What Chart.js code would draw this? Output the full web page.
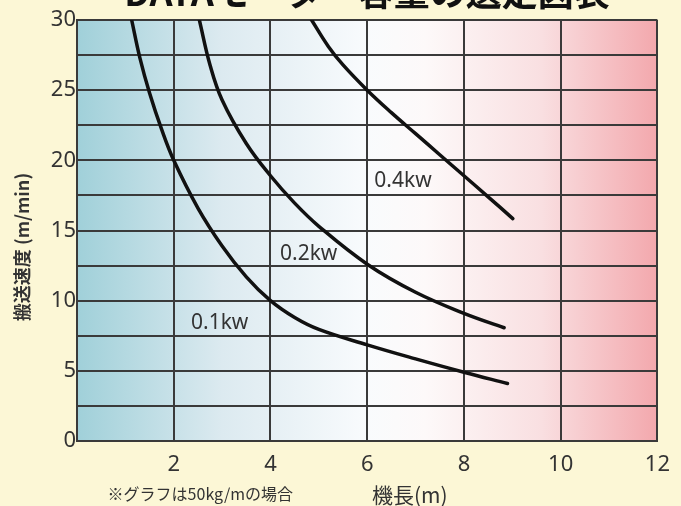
<!DOCTYPE html>
<html>
<head>
<meta charset="utf-8">
<script src="https://cdn.jsdelivr.net/npm/chart.js@4/dist/chart.umd.min.js"></script>
<style>
  html, body { margin: 0; padding: 0; background: #fcf7d6; }
  #wrap { width: 681px; height: 506px; position: relative; }
</style>
</head>
<body>
<div id="wrap"><canvas id="c" width="681" height="506"></canvas></div>
<script>
// ---- data ----
const TITLE = 'DATAモーター容量の選定図表';
const X_TITLE = '機長(m)';
const Y_TITLE = '搬送速度 (m/min)';
const NOTE = '※グラフは50kg/mの場合';

const seriesNames = ['0.1kw', '0.2kw', '0.4kw'];
// machine length (m)
const len01 = [1.13, 1.3, 1.5, 1.75, 2.0, 2.5, 3.0, 3.5, 4.0, 4.5, 5.0, 6.0, 7.0, 8.0, 8.9];
// conveying speed (m/min)
const spd01 = [30, 27.3, 24.8, 22.2, 20, 16.6, 13.9, 11.7, 10, 8.8, 7.95, 6.85, 5.85, 4.9, 4.1];

const len02 = [2.53, 2.75, 3.0, 3.5, 4.0, 4.5, 5.0, 6.0, 7.0, 8.0, 8.83];
const spd02 = [30, 26.8, 24.3, 21.2, 18.9, 16.95, 15.3, 12.6, 10.6, 9.1, 8.07];

const len04 = [4.85, 5.2, 5.5, 6.0, 6.5, 7.0, 7.5, 8.0, 8.5, 9.01];
const spd04 = [30, 28.1, 26.8, 25, 23.4, 21.9, 20.4, 18.9, 17.4, 15.85];

// series label anchors (x in m, y in m/min)
const labelX = [2.95, 4.79, 6.74];
const labelY = [8.4, 13.3, 18.5];

const xTicks = [0, 2, 4, 6, 8, 10, 12];

function pts(xs, ys) { return xs.map((x, i) => ({ x: x, y: ys[i] })); }

const bgPlugin = {
  id: 'bg',
  beforeDraw(chart) {
    const { ctx, chartArea: a } = chart;
    ctx.save();
    ctx.fillStyle = '#fcf7d6';
    ctx.fillRect(0, 0, chart.width, chart.height);
    const g = ctx.createLinearGradient(a.left, 0, a.right, 0);
    g.addColorStop(0, '#a0d0d9');
    g.addColorStop(0.25, '#dceaf0');
    g.addColorStop(0.5, '#f9fbfd');
    g.addColorStop(0.6, '#fdf9f9');
    g.addColorStop(0.8, '#f9dfe1');
    g.addColorStop(1, '#f3a8ad');
    ctx.fillStyle = g;
    ctx.fillRect(a.left, a.top, a.right - a.left, a.bottom - a.top);
    ctx.restore();
  }
};

const textPlugin = {
  id: 'texts',
  afterDraw(chart) {
    const { ctx } = chart;
    const xs = chart.scales.x, ys = chart.scales.y;
    ctx.save();
    // series labels
    ctx.fillStyle = '#333';
    ctx.font = '21px "Noto Sans", sans-serif';
    ctx.textAlign = 'center';
    ctx.textBaseline = 'middle';
    seriesNames.forEach((n, i) => {
      ctx.fillText(n, xs.getPixelForValue(labelX[i]), ys.getPixelForValue(labelY[i]));
    });
    // top title (cut off by the top edge)
    ctx.fillStyle = '#111';
    ctx.font = 'bold 36px "Noto Sans CJK JP", sans-serif';
    ctx.textBaseline = 'alphabetic';
    ctx.fillText(TITLE, 367, 6);
    // x title
    ctx.fillStyle = '#333';
    ctx.font = '21px "Noto Sans CJK JP", sans-serif';
    ctx.textBaseline = 'middle';
    ctx.textAlign = 'left';
    ctx.fillText(X_TITLE, 372, 495);
    // note
    ctx.font = '16px "Noto Sans CJK JP", sans-serif';
    ctx.textAlign = 'right';
    ctx.fillText(NOTE, 293, 494);
    // y title
    ctx.translate(22, 247);
    ctx.rotate(-Math.PI / 2);
    ctx.textAlign = 'center';
    ctx.font = 'bold 18px "Noto Sans CJK JP", sans-serif';
    ctx.fillText(Y_TITLE, 0, 0);
    ctx.restore();
  }
};

const lineStyle = { borderColor: '#111', borderWidth: 3.5, pointRadius: 0, showLine: true, fill: false, tension: 0.4, borderCapStyle: 'round', borderJoinStyle: 'round' };

new Chart(document.getElementById('c'), {
  type: 'scatter',
  data: {
    datasets: [
      Object.assign({ label: seriesNames[0], data: pts(len01, spd01) }, lineStyle),
      Object.assign({ label: seriesNames[1], data: pts(len02, spd02) }, lineStyle),
      Object.assign({ label: seriesNames[2], data: pts(len04, spd04) }, lineStyle)
    ]
  },
  options: {
    responsive: false,
    animation: false,
    layout: { padding: { left: 0, top: 20, right: 18, bottom: 0 } },
    plugins: { legend: { display: false }, tooltip: { enabled: false } },
    scales: {
      x: {
        type: 'linear', min: 0, max: 12,
        afterBuildTicks(s) { s.ticks = xTicks.map(v => ({ value: v })); },
        afterFit(s) { s.height = 65; },
        grid: { color: '#3a3a3a', lineWidth: 2, drawTicks: false },
        border: { color: '#3a3a3a', width: 2 },
        ticks: {
          padding: 11, color: '#333', maxRotation: 0,
          font: { family: '"Noto Sans", sans-serif', size: 22 },
          callback: v => (v === 0 ? '' : String(v))
        }
      },
      y: {
        type: 'linear', min: 0, max: 30,
        afterFit(s) { s.width = 77; },
        grid: { color: '#3a3a3a', lineWidth: 2, drawTicks: false },
        border: { color: '#3a3a3a', width: 2 },
        ticks: {
          stepSize: 2.5, padding: 1, color: '#333',
          font: { family: '"Noto Sans", sans-serif', size: 22 },
          callback: v => (v % 5 === 0 ? String(v) : '')
        }
      }
    }
  },
  plugins: [bgPlugin, textPlugin]
});
</script>
</body>
</html>
